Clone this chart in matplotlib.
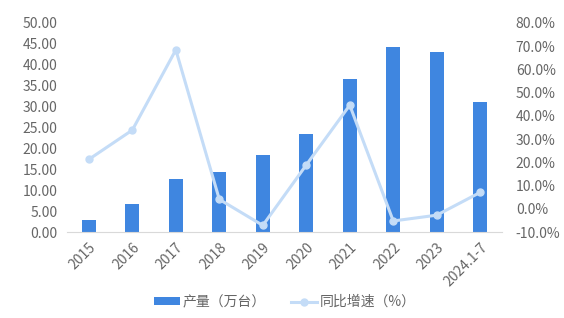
import matplotlib
matplotlib.use('Agg')
import matplotlib.pyplot as plt
import numpy as np

plt.rcParams['font.family'] = ['Noto Sans CJK SC', 'DejaVu Sans']

# 数据
years = ['2015', '2016', '2017', '2018', '2019', '2020', '2021', '2022', '2023', '2024.1-7']
output = [2.9, 6.8, 12.7, 14.4, 18.4, 23.4, 36.6, 44.3, 43.1, 31.2]
growth = [21.3, 33.9, 68.4, 4.1, -7.1, 18.9, 44.6, -5.2, -2.7, 7.1]

bar_color = '#3F86E0'
line_color = '#C4DCF7'
text_color = '#666666'

fig = plt.figure(figsize=(5.64, 3.18), dpi=100)
ax = fig.add_axes([0.119, 0.270, 0.771, 0.658])
x = np.arange(len(years))

b = ax.bar(x, output, width=0.32, color=bar_color, label='产量（万台）', zorder=2)
ax.set_ylim(0, 50)
ax.set_yticks(np.arange(0, 50.01, 5))
ax.set_yticklabels([f'{v:.2f}' for v in np.arange(0, 50.01, 5)])
ax.set_xlim(-0.5, len(years) - 0.5)
ax.set_xticks(x)
ax.set_xticklabels(years, rotation=45, ha='right', rotation_mode='anchor')

ax2 = ax.twinx()
l, = ax2.plot(x, growth, color=line_color, linewidth=2.2, marker='o', markersize=5,
              label='同比增速（%）', zorder=3)
ax2.set_ylim(-10, 80)
ax2.set_yticks(np.arange(-10, 80.01, 10))
ax2.set_yticklabels([f'{v:.1f}%' for v in np.arange(-10, 80.01, 10)])

for a in (ax, ax2):
    for s in ['top', 'right', 'left']:
        a.spines[s].set_visible(False)
    a.spines['bottom'].set_color('#D9D9D9')
    a.tick_params(length=0, labelsize=10, colors=text_color)
ax2.spines['bottom'].set_visible(False)
ax.tick_params(axis='x', pad=6)
ax.tick_params(axis='y', pad=7)
ax2.tick_params(axis='y', pad=10)

fig.legend([b, l], ['产量（万台）', '同比增速（%）'], loc='center', bbox_to_anchor=(0.505, 0.05),
           ncol=2, frameon=False, fontsize=10, labelcolor=text_color,
           handlelength=1.9, handleheight=0.5, columnspacing=1.8, handletextpad=0.2)

plt.savefig('out.png', dpi=100)
